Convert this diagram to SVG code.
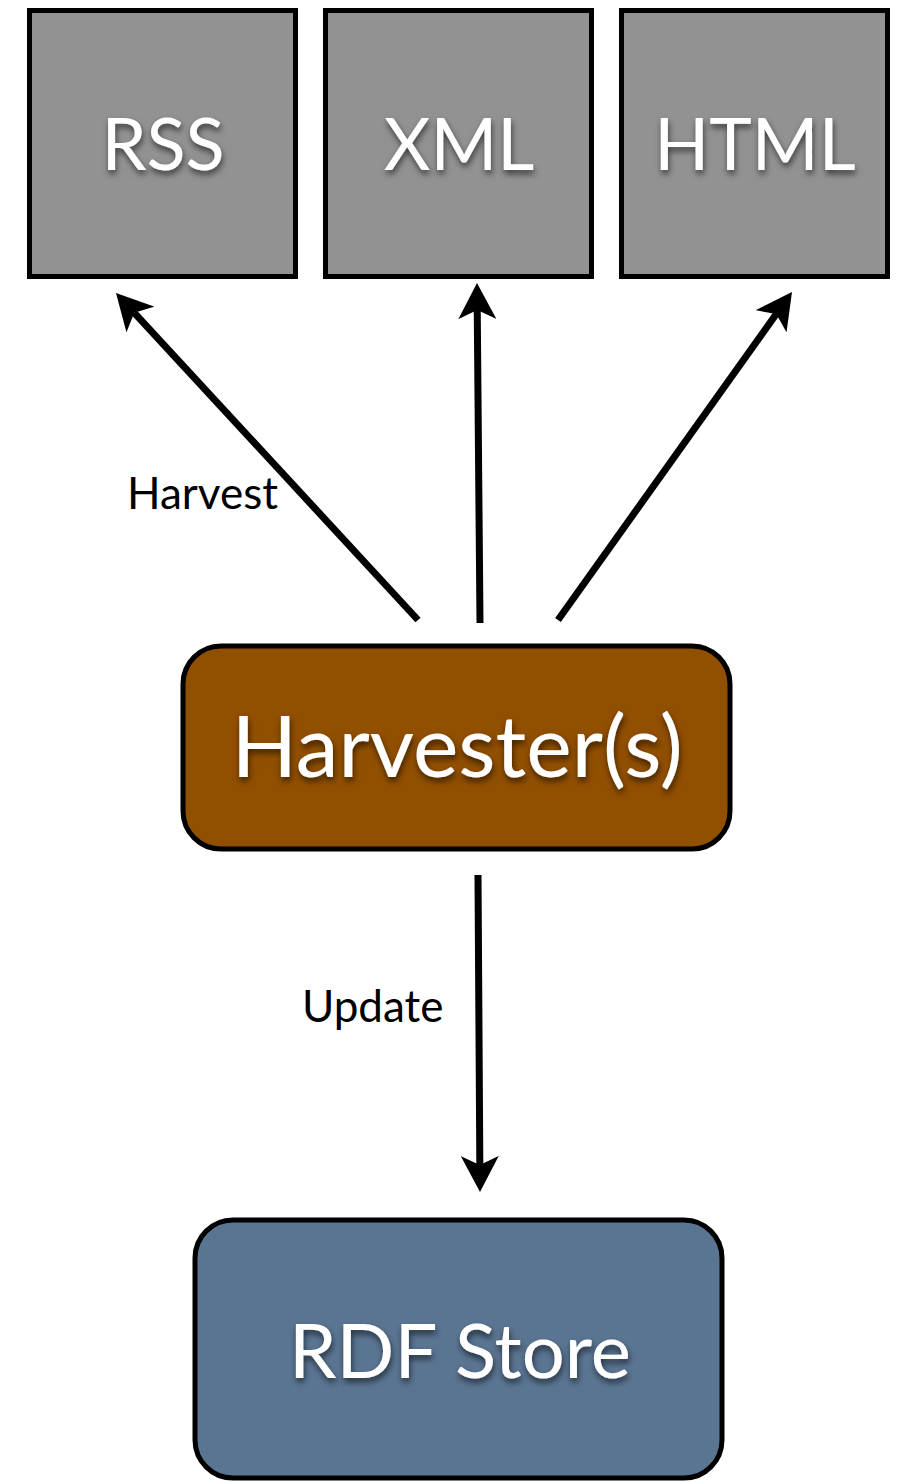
<svg xmlns="http://www.w3.org/2000/svg" width="900" height="1482" viewBox="0 0 900 1482">
<style>
.src{fill:#929292;stroke:#000;stroke-width:5}
.big{font-family:Lato,"Open Sans",sans-serif;fill:#fff;text-anchor:middle;filter:url(#sh)}
.lbl{font-family:Lato,"Open Sans",sans-serif;fill:#000;font-size:44px}
.conn{stroke:#000;stroke-width:7;fill:none;marker-end:url(#ah)}
</style>
<defs>
<filter id="sh" x="-20%" y="-30%" width="140%" height="160%">
<feDropShadow dx="1" dy="4" stdDeviation="3" flood-color="#000" flood-opacity="0.6"/>
</filter>
<marker id="ah" viewBox="0 0 36 38" refX="9" refY="19" markerWidth="36" markerHeight="38" markerUnits="userSpaceOnUse" orient="auto">
<path d="M36,19 L0,0 L9,19 L0,38 Z" fill="#000"/>
</marker>
</defs>
<g id="rss"><rect class="src" x="29.5" y="10.5" width="266" height="266"/><text class="big" x="163" y="170" font-size="72">RSS</text></g>
<g id="xml"><rect class="src" x="325.5" y="10.5" width="266" height="266"/><text class="big" x="459" y="170" font-size="72">XML</text></g>
<g id="html"><rect class="src" x="621.5" y="10.5" width="266" height="266"/><text class="big" x="755" y="170" font-size="72">HTML</text></g>
<g id="harvester"><rect x="183" y="646" width="547" height="203" rx="38" fill="#914f00" stroke="#000" stroke-width="5"/><text class="big" x="457" y="777" font-size="86">Harvester(s)</text></g>
<g id="rdf"><rect x="195" y="1220" width="527" height="258" rx="38" fill="#5a7592" stroke="#000" stroke-width="5"/><text class="big" x="460" y="1378" font-size="76">RDF Store</text></g>
<g id="connectors">
<line class="conn" x1="418" y1="620" x2="134.3" y2="312.8"/>
<line class="conn" x1="480" y1="623" x2="477.24" y2="310"/>
<line class="conn" x1="558" y1="620" x2="776.3" y2="314"/>
<line class="conn" x1="478" y1="875" x2="479.83" y2="1165"/>
<text class="lbl" x="127" y="509">Harvest</text>
<text class="lbl" x="302" y="1022">Update</text>
</g>
</svg>
